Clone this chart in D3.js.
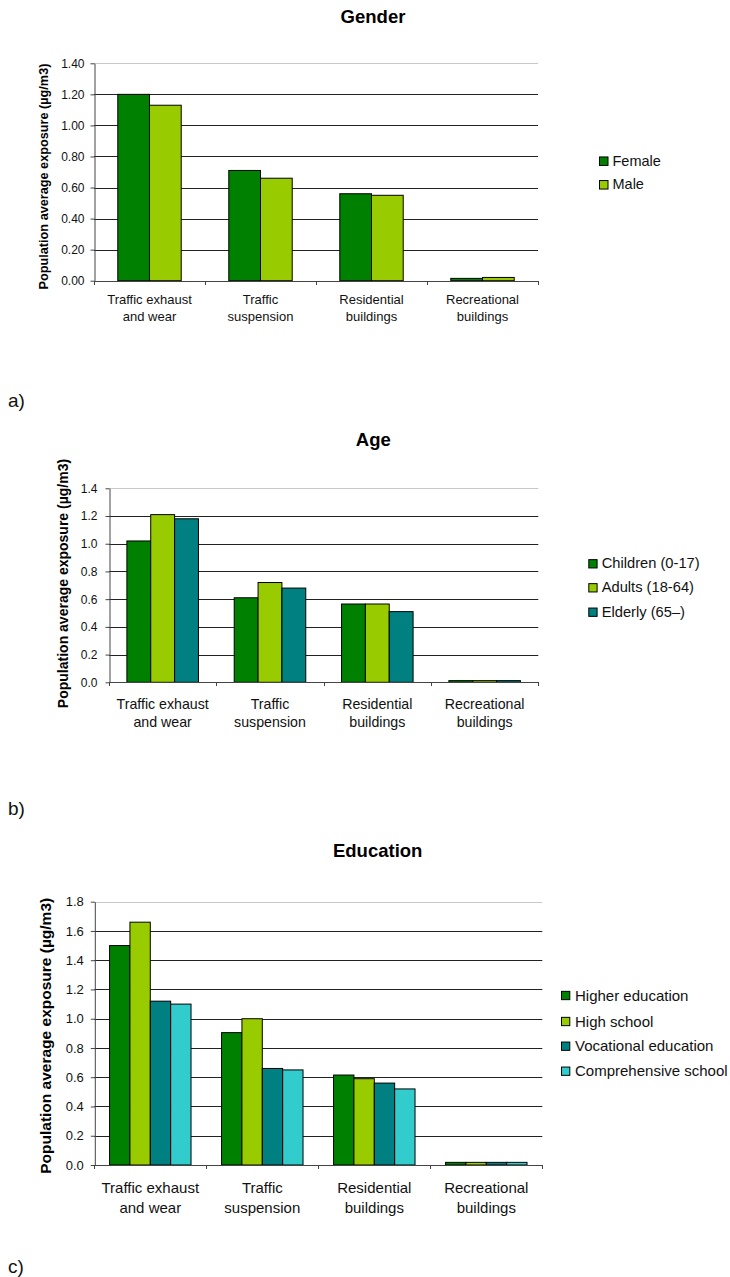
<!DOCTYPE html>
<html>
<head>
<meta charset="utf-8">
<script src="https://cdn.jsdelivr.net/npm/d3@7"></script>
<style>
  html, body { margin: 0; padding: 0; background: #fff; }
  svg { display: block; font-family: "Liberation Sans", Arial, sans-serif; }
</style>
</head>
<body>
<svg id="chart" width="730" height="1277"></svg>
<script>
// Source categories shared by all three panels
const categoryLines = [
  ["Traffic exhaust", "and wear"],
  ["Traffic", "suspension"],
  ["Residential", "buildings"],
  ["Recreational", "buildings"]
];

// Panel a) Gender
const genderTitle = "Gender";
const genderSeries = ["Female", "Male"];
const genderValues = [
  [1.20, 0.71, 0.56, 0.015],
  [1.13, 0.66, 0.55, 0.021]
];
const genderTicks = [0, 0.2, 0.4, 0.6, 0.8, 1.0, 1.2, 1.4];

// Panel b) Age
const ageTitle = "Age";
const ageSeries = ["Children (0-17)", "Adults (18-64)", "Elderly (65–)"];
const ageValues = [
  [1.02, 0.61, 0.565, 0.012],
  [1.21, 0.72, 0.565, 0.012],
  [1.18, 0.68, 0.51, 0.012]
];
const ageTicks = [0, 0.2, 0.4, 0.6, 0.8, 1.0, 1.2, 1.4];

// Panel c) Education
const eduTitle = "Education";
const eduSeries = ["Higher education", "High school", "Vocational education", "Comprehensive school"];
const eduValues = [
  [1.50, 0.905, 0.615, 0.018],
  [1.66, 1.00, 0.59, 0.018],
  [1.12, 0.66, 0.56, 0.018],
  [1.10, 0.65, 0.52, 0.018]
];
const eduTicks = [0, 0.2, 0.4, 0.6, 0.8, 1.0, 1.2, 1.4, 1.6, 1.8];

const yLabel = "Population average exposure (µg/m3)";
const seriesColors = ["#008000", "#99cc00", "#008080", "#33cccc"];

const svg = d3.select("#chart");

function drawPanel(p) {
  const g = svg.append("g");
  const cats = categoryLines.map((d, i) => i);

  const x = d3.scaleBand().domain(cats).range([p.x0, p.x1]).padding(0);
  const xs = d3.scaleBand().domain(p.series.map((d, i) => i))
    .range([0, x.bandwidth()]).paddingInner(0).paddingOuter(0.75);
  const y = d3.scaleLinear().domain([0, p.yMax]).range([p.yBottom, p.yTop]);

  // gridlines
  g.append("g").selectAll("line")
    .data(p.ticks.filter(t => t > 0))
    .join("line")
    .attr("x1", p.x0).attr("x2", p.x1)
    .attr("y1", d => Math.round(y(d)) + 0.5).attr("y2", d => Math.round(y(d)) + 0.5)
    .attr("stroke", d => Math.abs(d - p.yMax) < 1e-9 ? "#c8c8c8" : "#222")
    .attr("stroke-width", 1);

  // bars
  p.series.forEach((s, si) => {
    g.append("g").selectAll("rect")
      .data(p.values[si])
      .join("rect")
      .attr("x", (d, ci) => x(ci) + xs(si))
      .attr("y", d => y(d))
      .attr("width", xs.bandwidth())
      .attr("height", d => y(0) - y(d))
      .attr("fill", seriesColors[si])
      .attr("stroke", "#000")
      .attr("stroke-width", 1);
  });

  // y axis
  const yAxis = d3.axisLeft(y).tickValues(p.ticks).tickFormat(d3.format(p.fmt))
    .tickSizeInner(4).tickSizeOuter(0).tickPadding(p.tickPad);
  const ya = g.append("g").attr("transform", `translate(${p.x0 + 0.5},0)`).call(yAxis);
  ya.selectAll("path").attr("stroke", "#444");
  ya.selectAll("line").attr("stroke", "#444");
  ya.selectAll("text").attr("font-size", p.tickFont).attr("fill", "#111")
    .attr("font-family", "Liberation Sans, Arial, sans-serif");

  // x axis line with ticks at category boundaries
  const xa = g.append("g");
  xa.append("line").attr("x1", p.x0).attr("x2", p.x1)
    .attr("y1", Math.round(p.yBottom) + 0.5).attr("y2", Math.round(p.yBottom) + 0.5)
    .attr("stroke", "#444");
  const bounds = cats.map(c => x(c)).concat([p.x1]);
  xa.selectAll("line.tk").data(bounds).join("line").attr("class", "tk")
    .attr("x1", d => Math.round(d) + 0.5).attr("x2", d => Math.round(d) + 0.5)
    .attr("y1", Math.round(p.yBottom)).attr("y2", Math.round(p.yBottom) + 4)
    .attr("stroke", "#444");

  // category labels
  cats.forEach(c => {
    const t = g.append("text")
      .attr("text-anchor", "middle")
      .attr("font-size", p.catFont)
      .attr("fill", "#111");
    categoryLines[c].forEach((line, li) => {
      t.append("tspan")
        .attr("x", x(c) + x.bandwidth() / 2)
        .attr("y", p.catY[li])
        .text(line);
    });
  });

  // title
  g.append("text").attr("x", p.titleX).attr("y", p.titleY)
    .attr("text-anchor", "middle").attr("font-weight", "bold")
    .attr("font-size", 18.5).attr("fill", "#000").text(p.title);

  // y axis label
  g.append("text")
    .attr("transform", `translate(${p.yLabelX},${p.yLabelY}) rotate(-90)`)
    .attr("text-anchor", "middle").attr("dominant-baseline", "central")
    .attr("font-weight", "bold").attr("font-size", p.yLabelFont)
    .attr("fill", "#000").text(yLabel);

  // legend
  const lg = g.append("g");
  p.series.forEach((s, si) => {
    const cy = p.legendY[si];
    lg.append("rect")
      .attr("x", p.legendX + 0.5).attr("y", cy - p.legendBox / 2 + 0.5)
      .attr("width", p.legendBox).attr("height", p.legendBox)
      .attr("fill", seriesColors[si]).attr("stroke", "#000");
    lg.append("text")
      .attr("x", p.legendTextX).attr("y", cy)
      .attr("dominant-baseline", "central")
      .attr("font-size", p.legendFont).attr("fill", "#111").text(s);
  });

  // panel tag
  g.append("text").attr("x", 8).attr("y", p.tagY)
    .attr("font-size", 19).attr("fill", "#111").text(p.tag);
}

drawPanel({
  title: genderTitle, series: genderSeries, values: genderValues, ticks: genderTicks,
  fmt: ".2f", yMax: 1.4, x0: 94, x1: 538, yTop: 63.3, yBottom: 280.7,
  tickFont: 12, tickPad: 6, catFont: 13, catY: [303.5, 320.5],
  titleX: 373, titleY: 22.7, yLabelX: 44, yLabelY: 176.5, yLabelFont: 12.7,
  legendX: 599, legendBox: 8.5, legendY: [160.7, 184.3], legendTextX: 612.5, legendFont: 14.5,
  tag: "a)", tagY: 406.7
});

drawPanel({
  title: ageTitle, series: ageSeries, values: ageValues, ticks: ageTicks,
  fmt: ".1f", yMax: 1.4, x0: 109, x1: 538.3, yTop: 488.3, yBottom: 682.3,
  tickFont: 12, tickPad: 8, catFont: 14.2, catY: [709.3, 727.3],
  titleX: 373.3, titleY: 446, yLabelX: 63.3, yLabelY: 583.5, yLabelFont: 14,
  legendX: 588.3, legendBox: 8.3, legendY: [563.3, 587.3, 611.7], legendTextX: 601.7, legendFont: 14.7,
  tag: "b)", tagY: 815
});

drawPanel({
  title: eduTitle, series: eduSeries, values: eduValues, ticks: eduTicks,
  fmt: ".1f", yMax: 1.8, x0: 94.3, x1: 542.3, yTop: 901.7, yBottom: 1165,
  tickFont: 13, tickPad: 7, catFont: 15, catY: [1192.7, 1213.3],
  titleX: 377.7, titleY: 856.7, yLabelX: 45, yLabelY: 1035.8, yLabelFont: 15.5,
  legendX: 561, legendBox: 8.3, legendY: [995, 1021, 1045.7, 1070.7], legendTextX: 575, legendFont: 15,
  tag: "c)", tagY: 1273
});
</script>
</body>
</html>
